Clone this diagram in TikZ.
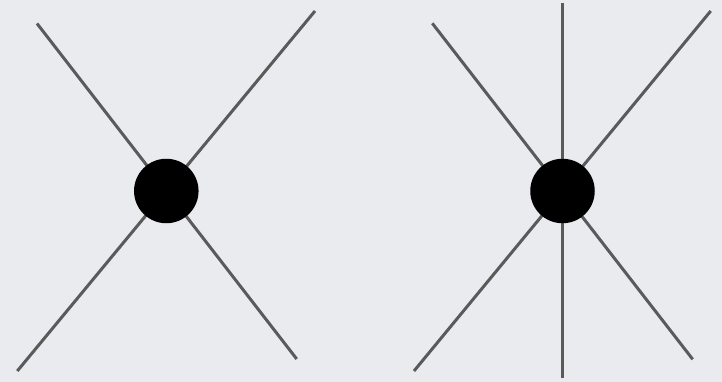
\documentclass[tikz,border=0pt]{standalone}
\definecolor{bgcol}{RGB}{234,235,239}
\definecolor{spokecol}{RGB}{90,90,90}
\begin{document}
\begin{tikzpicture}[x=1pt,y=-1pt,
  spoke/.style={draw=spokecol,line width=3pt,line cap=butt},
  vertex/.style={circle,fill=black,draw=none,minimum size=64.5pt,inner sep=0pt}]
\fill[bgcol] (0,0) rectangle (722,382);
\useasboundingbox (0,0) rectangle (722,382);
% left diagram
\coordinate (a1) at (37,23.5);
\coordinate (a2) at (296.7,359);
\coordinate (b1) at (315,11);
\coordinate (b2) at (17.3,371);
\draw[spoke] (a1) -- (a2);
\draw[spoke] (b1) -- (b2);
\node[vertex] (v1) at (166.3,191) {};
% right diagram
\coordinate (c1) at (432.3,23.3);
\coordinate (c2) at (692.7,359.3);
\coordinate (d1) at (710.7,11);
\coordinate (d2) at (414,371);
\coordinate (e1) at (562.5,3.5);
\coordinate (e2) at (562.5,378);
\draw[spoke] (c1) -- (c2);
\draw[spoke] (d1) -- (d2);
\draw[spoke] (e1) -- (e2);
\node[vertex] (v2) at (562.5,191) {};
\end{tikzpicture}
\end{document}
